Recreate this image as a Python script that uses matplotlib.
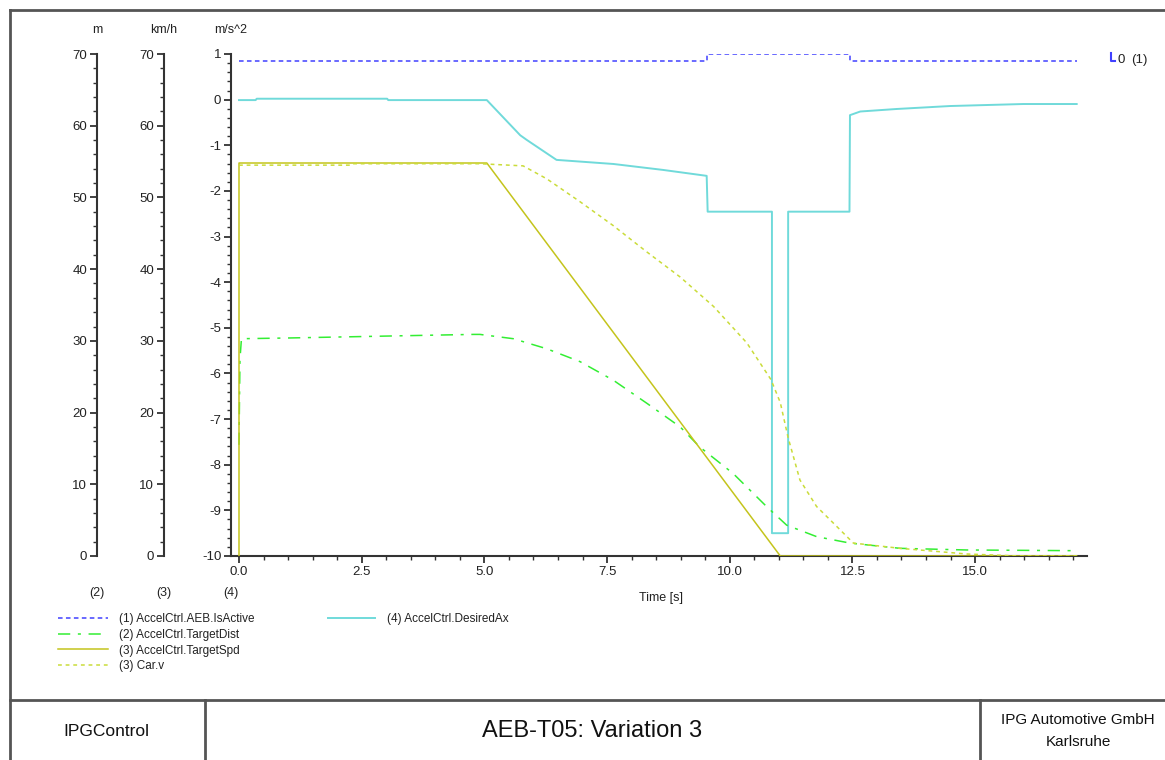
import matplotlib
matplotlib.use("Agg")
import matplotlib.pyplot as plt
from matplotlib import font_manager
from matplotlib.lines import Line2D
from matplotlib.ticker import MultipleLocator

# pick an Arial-like font, a narrow one for the footer if it is there
names = {f.name for f in font_manager.fontManager.ttflist}
BASE = "Liberation Sans" if "Liberation Sans" in names else "DejaVu Sans"
NARROW = "Liberation Sans Narrow" if "Liberation Sans Narrow" in names else BASE
plt.rcParams["font.family"] = BASE
plt.rcParams["axes.unicode_minus"] = False

# (1) AccelCtrl.AEB.IsActive [-]
t_active = [0.0, 9.53, 9.53, 12.45, 12.45, 17.07]
v_active = [0, 0, 1, 1, 0, 0]

# (2) AccelCtrl.TargetDist [m]
t_dist = [0.0, 0.01, 0.02, 0.05, 1.0, 2.5, 4.0, 4.78, 4.91, 5.59, 6.27, 6.95, 7.63,
          8.31, 8.99, 9.39, 10.07, 10.75, 11.16, 11.77, 12.45, 13.47, 14.83, 17.07]
v_dist = [15.5, 22.0, 27.5, 30.3, 30.4, 30.6, 30.8, 30.9, 30.9, 30.3, 28.9, 27.1, 24.5,
          21.3, 18.0, 15.2, 11.5, 6.9, 4.3, 2.7, 1.8, 1.07, 0.84, 0.74]

# (3) AccelCtrl.TargetSpd [km/h]
t_tspd = [0.0, 0.0, 5.05, 11.03, 17.07]
v_tspd = [0.0, 54.8, 54.8, 0.0, 0.0]

# (3) Car.v [km/h]
t_carv = [0.0, 2.26, 2.3, 4.5, 4.91, 5.79, 6.27, 6.95, 7.62, 8.31, 8.99, 9.67, 10.35,
          10.84, 11.03, 11.19, 11.43, 11.77, 12.11, 12.52, 13.47, 14.83, 15.9, 17.07]
v_carv = [54.5, 54.5, 54.7, 54.7, 54.7, 54.4, 52.6, 49.4, 46.1, 42.4, 38.9, 34.8, 29.7,
          24.6, 21.4, 16.5, 10.6, 6.9, 4.6, 1.8, 1.07, 0.28, 0.0, 0.0]

# (4) AccelCtrl.DesiredAx [m/s^2]
t_ax = [0.0, 0.34, 0.36, 3.02, 3.04, 5.05, 5.73, 5.86, 6.47, 7.63, 8.64, 9.53, 9.55,
        10.86, 10.86, 11.19, 11.19, 12.44, 12.45, 12.66, 13.4, 14.49, 15.98, 17.07]
v_ax = [-0.01, -0.01, 0.02, 0.02, -0.01, -0.01, -0.78, -0.88, -1.32, -1.41, -1.54, -1.67,
        -2.455, -2.455, -9.5, -9.5, -2.455, -2.455, -0.34, -0.26, -0.205, -0.14, -0.096, -0.096]

x_ticks = [0.0, 2.5, 5.0, 7.5, 10.0, 12.5, 15.0]
labels = ["(1) AccelCtrl.AEB.IsActive", "(2) AccelCtrl.TargetDist",
          "(3) AccelCtrl.TargetSpd", "(3) Car.v", "(4) AccelCtrl.DesiredAx"]

c_blue = "#4040ff"
c_green = "#33ee33"
c_olive = "#c4c41c"
c_yell = "#cadc3a"
c_cyan = "#70dada"
c_axis = "#333333"
c_text = "#222222"

W, H = 1165, 760
fig = plt.figure(figsize=(W / 100, H / 100), dpi=100, facecolor="white")

def fx(px):
    return px / W

def fy(py):
    return 1 - py / H

bottom, top = fy(556), fy(54)
left, right = fx(231), fx(1087)

ax = fig.add_axes([left, bottom, right - left, top - bottom])
ax.set_xlim(-0.163, 17.28)
ax.set_ylim(-10, 1)
for s in ["top", "right"]:
    ax.spines[s].set_visible(False)
for s in ["left", "bottom"]:
    ax.spines[s].set_linewidth(1.5)
    ax.spines[s].set_color(c_axis)
ax.xaxis.set_major_locator(MultipleLocator(2.5))
ax.xaxis.set_minor_locator(MultipleLocator(0.5))
ax.yaxis.set_major_locator(MultipleLocator(1))
ax.yaxis.set_minor_locator(MultipleLocator(0.2))
ax.set_xticks(x_ticks)
ax.set_xticklabels([f"{v:.1f}" for v in x_ticks])
ax.tick_params(which="major", length=5, width=1.3, color=c_axis, labelsize=9.5,
               labelcolor=c_text, pad=2)
ax.tick_params(which="minor", length=3, width=1.0, color=c_axis)

# twin scales for the m / km/h signals and the (1) flag
ax_d = ax.twinx()
ax_d.set_ylim(0, 70)
ax_d.axis("off")
ax_f = ax.twinx()
ax_f.set_ylim(-70.4, 1.0)
ax_f.axis("off")

l1, = ax_f.plot(t_active, v_active, color=c_blue, lw=1.1, dashes=(3, 2.2))
l2, = ax_d.plot(t_dist, v_dist, color=c_green, lw=1.1, dashes=(8, 5, 2, 5))
l3, = ax_d.plot(t_tspd, v_tspd, color=c_olive, lw=1.1)
l4, = ax_d.plot(t_carv, v_carv, color=c_yell, lw=1.1, dashes=(2.5, 2.5))
l5, = ax.plot(t_ax, v_ax, color=c_cyan, lw=1.4)

# separate scales on the left (m and km/h)
for px in (97, 164):
    a = fig.add_axes([fx(px), bottom, 0.001, top - bottom])
    a.set_ylim(0, 70)
    a.set_xticks([])
    for s in ["top", "right", "bottom"]:
        a.spines[s].set_visible(False)
    a.spines["left"].set_linewidth(1.5)
    a.spines["left"].set_color(c_axis)
    a.patch.set_visible(False)
    a.yaxis.set_major_locator(MultipleLocator(10))
    a.yaxis.set_minor_locator(MultipleLocator(2))
    a.tick_params(which="major", length=5, width=1.3, color=c_axis, labelsize=9.5,
                  labelcolor=c_text, pad=2)
    a.tick_params(which="minor", length=3, width=1.0, color=c_axis)

# unit labels and signal numbers
for px, unit, num in [(97, "m", "(2)"), (164, "km/h", "(3)"), (231, "m/s^2", "(4)")]:
    fig.text(fx(px), fy(30), unit, ha="center", va="center", fontsize=9, color=c_text)
    fig.text(fx(px), fy(593), num, ha="center", va="center", fontsize=9, color=c_text)
fig.text(fx(661), fy(598), "Time [s]", ha="center", va="center", fontsize=9, color=c_text)

# (1) scale marker on the right
fig.add_artist(Line2D([fx(1111), fx(1111), fx(1115)], [fy(53), fy(61), fy(61)],
                      color=c_blue, lw=1.5, transform=fig.transFigure))
fig.text(fx(1117), fy(60), "0", ha="left", va="center", fontsize=9.5, color=c_text)
fig.text(fx(1131), fy(60), "(1)", ha="left", va="center", fontsize=9.5, color=c_text)

# legend
leg1 = fig.legend([l1, l2, l3, l4], labels[:4], loc="upper left",
                  bbox_to_anchor=(fx(58), fy(613)), frameon=False, fontsize=8.5,
                  handlelength=4.2, handletextpad=1.0, labelspacing=0.32,
                  borderpad=0, borderaxespad=0)
for txt in leg1.get_texts():
    txt.set_color(c_text)
leg2 = fig.legend([l5], labels[4:], loc="upper left",
                  bbox_to_anchor=(fx(328), fy(613)), frameon=False, fontsize=8.5,
                  handlelength=4.0, handletextpad=1.0, borderpad=0, borderaxespad=0)
for txt in leg2.get_texts():
    txt.set_color(c_text)

# page frame and footer
frame = dict(color="#555555", lw=2, transform=fig.transFigure)
fig.add_artist(Line2D([fx(10), fx(10)], [fy(10), 0], **frame))
fig.add_artist(Line2D([fx(10), 1], [fy(10), fy(10)], **frame))
fig.add_artist(Line2D([fx(10), 1], [fy(700), fy(700)], **frame))
fig.add_artist(Line2D([fx(205), fx(205)], [fy(700), 0], **frame))
fig.add_artist(Line2D([fx(980), fx(980)], [fy(700), 0], **frame))

fig.text(fx(106), fy(731), "IPGControl", ha="center", va="center", fontsize=12.5,
         family=NARROW, color="#111111")
fig.text(fx(592), fy(731), "AEB-T05: Variation 3", ha="center", va="center",
         fontsize=17, family=NARROW, color="#111111")
fig.text(fx(1078), fy(720), "IPG Automotive GmbH", ha="center", va="center",
         fontsize=11, family=NARROW, color="#111111")
fig.text(fx(1078), fy(742), "Karlsruhe", ha="center", va="center", fontsize=11,
         family=NARROW, color="#111111")

fig.savefig("out.png", dpi=100, facecolor="white")
